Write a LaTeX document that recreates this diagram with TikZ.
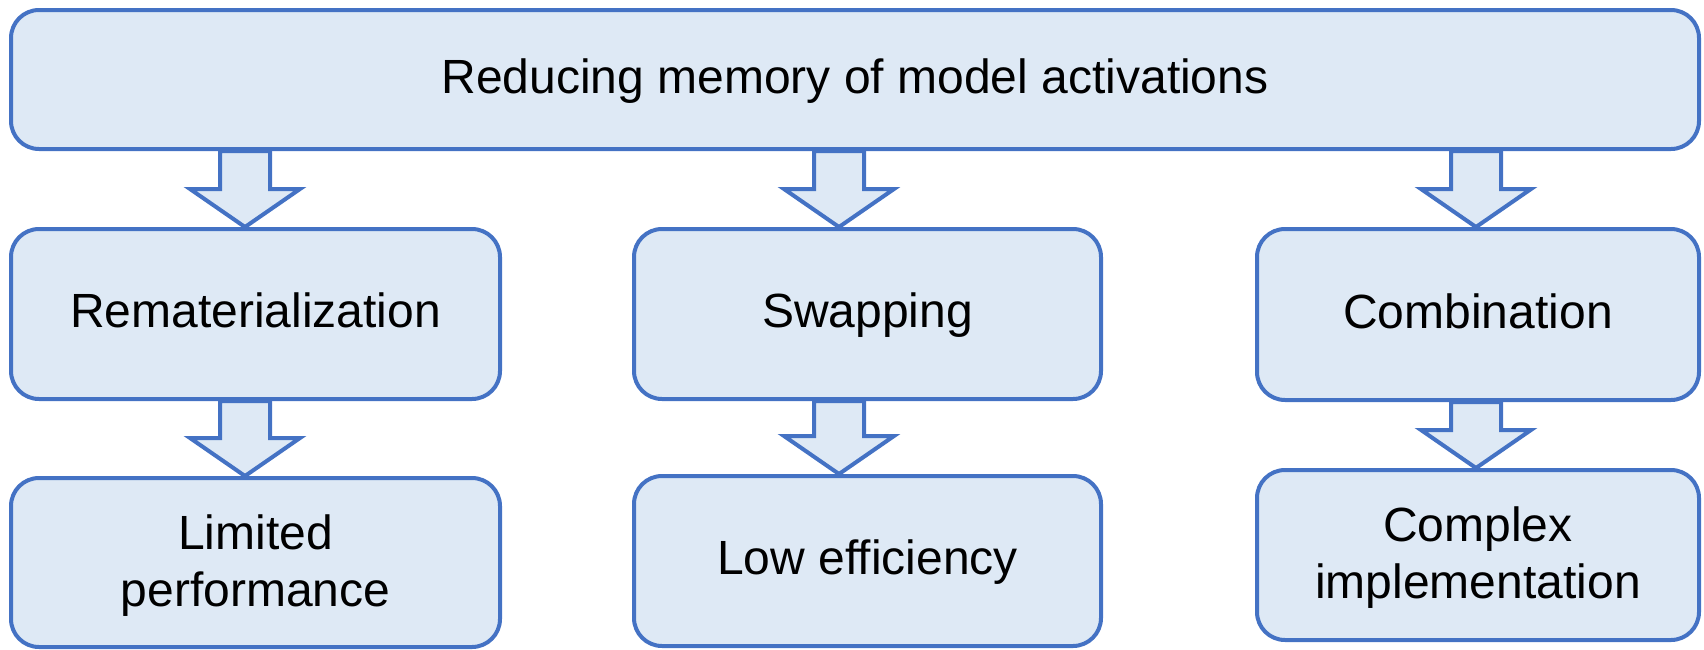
\documentclass[tikz,border=0pt]{standalone}
\usepackage{fontspec}
\setmainfont{Liberation Sans}
\usetikzlibrary{calc}
\definecolor{bordblue}{HTML}{4472C4}
\definecolor{fillblue}{HTML}{DEE9F5}
\newcommand{\linestrut}{\rule[-0.212em]{0pt}{\dimexpr 0.905em+2.4pt\relax}}
\newcommand{\twolinestrut}{\rule[-0.212em]{0pt}{54.1pt}}
\tikzset{
  box/.style={draw=bordblue, fill=fillblue, line width=2pt, rounded corners=14pt,
    align=center, inner sep=0pt, font=\fontsize{24}{28.5}\selectfont,
    execute at begin node=\linestrut, execute at end node=\linestrut},
  twoline/.style={execute at begin node=\twolinestrut},
  blockarr/.style={draw=bordblue, fill=fillblue, line width=2pt, line join=miter}
}
% #1 source node, #2 target node, #3 x position (px)
\newcommand{\blockarrow}[3]{%
  \path[blockarr] let \p1=(#1.south), \p2=(#2.north) in
    ({#3*0.5pt-12.5pt},\y1) -- ({#3*0.5pt+12.5pt},\y1) -- ({#3*0.5pt+12.5pt},\y2+19pt)
    -- ({#3*0.5pt+27.5pt},\y2+19pt) -- ({#3*0.5pt},\y2) -- ({#3*0.5pt-27.5pt},\y2+19pt)
    -- ({#3*0.5pt-12.5pt},\y2+19pt) -- cycle;}
\begin{document}
\begin{tikzpicture}[x=0.5pt,y=-0.5pt]
\useasboundingbox (0,0) rectangle (1704,649);
\node[box, minimum width=844pt, minimum height=69.5pt] (top) at (855,79.5) {Reducing memory of model activations};
\node[box, minimum width=244.5pt, minimum height=85pt] (rem) at (255.5,314) {Rematerialization};
\node[box, minimum width=233.5pt, minimum height=85pt] (swap) at (867.5,314) {Swapping};
\node[box, minimum width=221pt, minimum height=85.5pt] (comb) at (1478,314.5) {Combination};
\node[box, twoline, minimum width=244.5pt, minimum height=84.5pt] (lim) at (255.5,562.5) {Limited\\performance};
\node[box, minimum width=233.5pt, minimum height=85pt] (low) at (867.5,561) {Low efficiency};
\node[box, twoline, minimum width=221pt, minimum height=85pt] (cplx) at (1478,555) {Complex\\implementation};
\blockarrow{top}{rem}{245}
\blockarrow{top}{swap}{839}
\blockarrow{top}{comb}{1476}
\blockarrow{rem}{lim}{245}
\blockarrow{swap}{low}{839}
\blockarrow{comb}{cplx}{1476}
\end{tikzpicture}
\end{document}
